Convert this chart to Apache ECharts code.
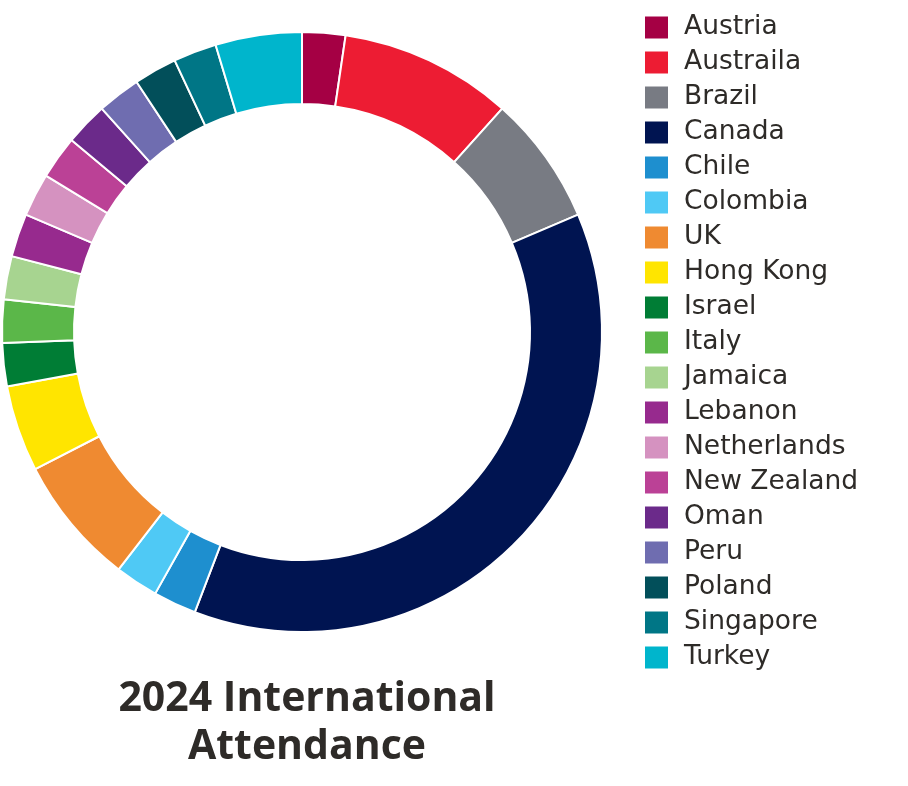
<!DOCTYPE html>
<html>
<head>
<meta charset="utf-8">
<script src="https://cdn.jsdelivr.net/npm/echarts@6/dist/echarts.min.js"></script>
<style>html,body{margin:0;padding:0;background:#fff;}#c{width:908px;height:786px;}</style>
</head>
<body>
<div id="c"></div>
<script>
const countries = ["Austria","Austraila","Brazil","Canada","Chile","Colombia","UK","Hong Kong","Israel","Italy","Jamaica","Lebanon","Netherlands","New Zealand","Oman","Peru","Poland","Singapore","Turkey"];
const attendance = [1,4,3,16,1,1,3,2,1,1,1,1,1,1,1,1,1,1,2];
const colors = ["#A50044","#ED1C33","#787B83","#001451","#1E8FCF","#4FC9F5","#EF8A31","#FFE500","#007D35","#5BB749","#A7D490","#972A8E","#D592C0","#BB4196","#6B2A8A","#6F6DB0","#024F5A","#007686","#00B5CC"];
const titleText = "2024 International\nAttendance";

const chart = echarts.init(document.getElementById('c'));
chart.setOption({
  animation: false,
  color: colors,
  title: {
    text: titleText,
    left: 302,
    top: 670,
    textAlign: 'center',
    textStyle: {fontFamily: 'Open Sans', fontWeight: 'bold', fontSize: 41, lineHeight: 48, color: '#2e2b28'}
  },
  legend: {
    orient: 'vertical',
    left: 640,
    top: 9,
    icon: 'rect',
    itemWidth: 23,
    itemHeight: 22,
    itemGap: 8,
    itemStyle: {borderWidth: 0},
    textStyle: {fontFamily: 'DejaVu Sans', fontSize: 26.5, color: '#2e2b28', lineHeight: 22, padding: [0,0,0,11]},
    data: countries
  },
  series: [{
    type: 'pie',
    center: [302, 332],
    radius: [228, 300],
    startAngle: 90,
    clockwise: true,
    label: {show: false},
    labelLine: {show: false},
    emphasis: {disabled: true},
    itemStyle: {borderColor: '#fff', borderWidth: 2},
    data: countries.map((n, i) => ({name: n, value: attendance[i]}))
  }]
});
</script>
</body>
</html>
